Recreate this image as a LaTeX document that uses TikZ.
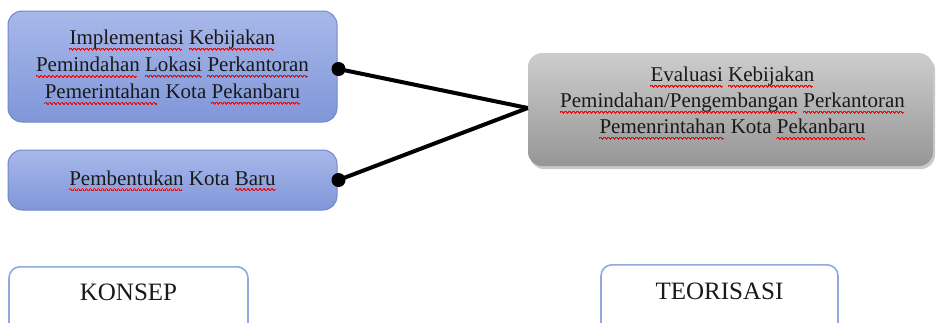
\documentclass[tikz,border=0pt]{standalone}
\usepackage{fontspec}
\setmainfont{Liberation Serif}
\usetikzlibrary{shadows}
\setlength{\unitlength}{1pt}
\definecolor{squig}{RGB}{230,20,20}
\newcommand\wavepiece{\begin{picture}(4,0)\linethickness{0.7pt}\qbezier(0,0)(1,1.8)(2,0)\qbezier(2,0)(3,-1.8)(4,0)\end{picture}}
\newcommand\sq[1]{\setbox0\hbox{#1}\rlap{\raisebox{-4.5pt}{\color{squig}\hbox to\wd0{\leaders\hbox{\wavepiece}\hfil}}}\box0\relax}
\definecolor{bluetop}{RGB}{168,184,234}
\definecolor{bluebot}{RGB}{128,150,216}
\definecolor{blueline}{RGB}{112,136,204}
\definecolor{greytop}{RGB}{205,205,205}
\definecolor{greybot}{RGB}{150,150,150}
\definecolor{lightline}{RGB}{140,172,220}
\definecolor{txt}{RGB}{25,25,25}
\tikzset{
  bluebox/.style={draw=blueline, line width=1pt, rounded corners=14pt,
    top color=bluetop, bottom color=bluebot, align=center, text=txt,
    font=\fontsize{21}{27}\selectfont, inner sep=0pt},
  greybox/.style={rounded corners=14pt, top color=greytop, bottom color=greybot,
    drop shadow={shadow xshift=2pt, shadow yshift=-3pt, opacity=0.35, fill=black!60}},
  boxtext/.style={align=center, text=txt, font=\fontsize{21}{26}\selectfont, inner sep=0pt},
  framebox/.style={draw=lightline, line width=1.6pt, rounded corners=11pt, fill=white, inner sep=0pt},
  lbl/.style={text=txt, font=\fontsize{25}{30}\selectfont, inner sep=0pt},
  conn/.style={line width=4pt, black},
  dotmark/.style={fill=black}
}
\begin{document}
\begin{tikzpicture}[x=1pt, y=-1pt]
\useasboundingbox (0,0) rectangle (936,322);
\clip (0,0) rectangle (936,322);
\fill[white] (0,0) rectangle (936,322);

\node[bluebox, minimum width=329pt, minimum height=111pt] (b1) at (172.5,66.5)
  {\sq{Implementasi} \sq{Kebijakan}\\ \sq{Pemindahan} \sq{Lokasi} \sq{Perkantoran}\\ \sq{Pemerintahan} Kota \sq{Pekanbaru}};
\node[bluebox, minimum width=329pt, minimum height=60pt] (b2) at (172.5,180)
  {\sq{Pembentukan} Kota \sq{Baru}};

\node[greybox, minimum width=405pt, minimum height=113pt] (b3) at (730.5,109.5) {};
\node[boxtext] (t3) at ([xshift=2pt,yshift=7pt]b3.center)
  {\sq{Evaluasi} \sq{Kebijakan}\\ \sq{Pemindahan/Pengembangan} \sq{Perkantoran}\\ \sq{Pemenrintahan} Kota \sq{Pekanbaru}};

\coordinate (m) at ([yshift=1.5pt]b3.west);
\coordinate (d1) at ([xshift=1pt,yshift=-2.5pt]b1.east);
\coordinate (d2) at ([xshift=1pt]b2.east);
\draw[conn] (d1) -- (m);
\draw[conn] (d2) -- (m);
\fill[dotmark] (d1) circle (7pt);
\fill[dotmark] (d2) circle (7pt);

\node[framebox, anchor=north, minimum width=239pt, minimum height=75pt] (k) at (128.5,266) {};
\node[lbl] (kl) at ([yshift=-26pt]k.north) {KONSEP};
\node[framebox, anchor=north, minimum width=237pt, minimum height=75pt] (t) at (719.5,264) {};
\node[lbl] (tl) at ([yshift=-27pt]t.north) {TEORISASI};
\end{tikzpicture}
\end{document}
